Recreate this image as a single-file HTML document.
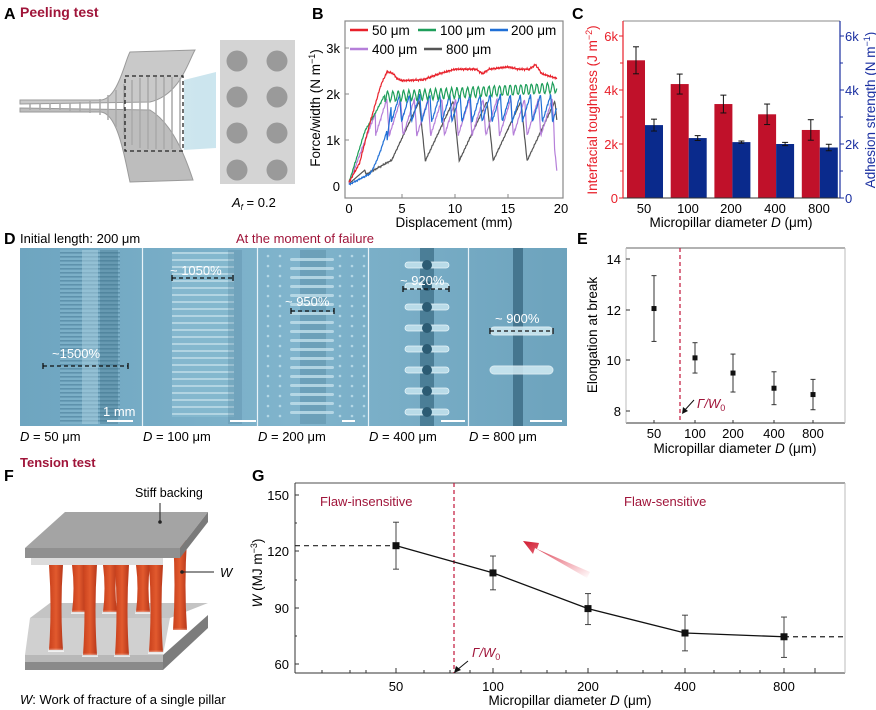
<!DOCTYPE html>
<html><head><meta charset="utf-8"><style>
html,body{margin:0;padding:0;background:#fff;}
svg{display:block;font-family:"Liberation Sans",Arial,sans-serif;}
</style></head><body>
<svg id="s" width="876" height="710" viewBox="0 0 876 710" xmlns="http://www.w3.org/2000/svg">
<defs>
<linearGradient id="fan" x1="0" x2="1"><stop offset="0" stop-color="#cfe6ee"/><stop offset="1" stop-color="#b7dbe8" stop-opacity="0.7"/></linearGradient>
<linearGradient id="pil" x1="0" x2="1"><stop offset="0" stop-color="#c8401c"/><stop offset="0.5" stop-color="#e25a2e"/><stop offset="1" stop-color="#b8381a"/></linearGradient>
<linearGradient id="pilf" x1="0" y1="0" x2="0" y2="1"><stop offset="0" stop-color="#fff" stop-opacity="0"/><stop offset="0.75" stop-color="#fff" stop-opacity="0"/><stop offset="1" stop-color="#fff" stop-opacity="0.8"/></linearGradient>
<linearGradient id="rarrow" x1="1" y1="1" x2="0" y2="0"><stop offset="0" stop-color="#e2233a" stop-opacity="0"/><stop offset="1" stop-color="#d01a30"/></linearGradient>
<linearGradient id="img" x1="0" x2="1"><stop offset="0" stop-color="#6ea5c0"/><stop offset="0.5" stop-color="#80b4cc"/><stop offset="1" stop-color="#6da3bd"/></linearGradient>
<pattern id="stripes" width="6" height="4" patternUnits="userSpaceOnUse"><rect width="6" height="4" fill="#7fb2c9"/><rect y="0" width="6" height="1.6" fill="#3f7590" opacity="0.6"/></pattern>
<pattern id="stripes2" width="6" height="7" patternUnits="userSpaceOnUse"><rect width="6" height="7" fill="#86b9cf"/><rect y="0" width="6" height="2" fill="#c9e3ee" opacity="0.8"/></pattern>
</defs>

<!-- Panel A -->
<text x="4" y="19" font-size="16" font-weight="bold">A</text>
<text x="20" y="17" font-size="14" font-weight="bold" fill="#a0153a">Peeling test</text>
<polygon points="184,80 216,72 216,148 184,150" fill="url(#fan)"/>
<path d="M20,100 L100,100 C118,100 125,60 130,52 L195,50 C188,62 180,95 150,102 L20,104 Z" fill="#c9c9c9" stroke="#9a9a9a" stroke-width="1"/>
<path d="M20,112 L100,112 C118,112 125,160 130,182 L193,180 C188,165 175,125 150,110 L20,108 Z" fill="#bdbdbd" stroke="#9a9a9a" stroke-width="1"/>
<g stroke="#a8a8a8" stroke-width="1.5">
<line x1="30" y1="103" x2="30" y2="110"/><line x1="40" y1="103" x2="40" y2="110"/><line x1="50" y1="103" x2="50" y2="110"/><line x1="60" y1="103" x2="60" y2="110"/><line x1="70" y1="103" x2="70" y2="111"/><line x1="80" y1="102" x2="80" y2="112"/><line x1="90" y1="101" x2="90" y2="113"/><line x1="100" y1="99" x2="100" y2="115"/><line x1="108" y1="95" x2="108" y2="120"/><line x1="116" y1="90" x2="116" y2="127"/><line x1="124" y1="84" x2="124" y2="135"/><line x1="132" y1="80" x2="132" y2="145"/><line x1="140" y1="78" x2="140" y2="148"/><line x1="148" y1="77" x2="148" y2="149"/><line x1="156" y1="77" x2="156" y2="149"/><line x1="164" y1="77" x2="164" y2="149"/><line x1="172" y1="77" x2="172" y2="149"/><line x1="180" y1="78" x2="180" y2="148"/>
</g>
<rect x="125" y="76" width="58" height="75" fill="none" stroke="#222" stroke-width="1.3" stroke-dasharray="4,3"/>
<rect x="220" y="40" width="75" height="144" fill="#d4d4d4"/>
<g fill="#9a9a9a"><circle cx="237" cy="61" r="10.5"/><circle cx="277" cy="61" r="10.5"/><circle cx="237" cy="97" r="10.5"/><circle cx="277" cy="97" r="10.5"/><circle cx="237" cy="133" r="10.5"/><circle cx="277" cy="133" r="10.5"/><circle cx="237" cy="170" r="10.5"/><circle cx="277" cy="170" r="10.5"/></g>
<text x="232" y="207" font-size="13"><tspan font-style="italic">A</tspan><tspan font-size="8" font-style="italic" dy="3">f</tspan><tspan dy="-3"> = 0.2</tspan></text>

<!-- Panel B -->
<text x="312" y="19" font-size="16" font-weight="bold">B</text>
<g id="bcurves"></g>
<rect x="345" y="21" width="218" height="177" fill="none" stroke="#888" stroke-width="1.2"/>
<g font-size="13" text-anchor="end">
<text x="340" y="191">0</text><text x="340" y="145">1k</text><text x="340" y="99">2k</text><text x="340" y="53">3k</text></g>
<g stroke="#888"><line x1="345" y1="140" x2="349" y2="140"/><line x1="345" y1="94" x2="349" y2="94"/><line x1="345" y1="48" x2="349" y2="48"/>
<line x1="402" y1="198" x2="402" y2="194"/><line x1="455" y1="198" x2="455" y2="194"/><line x1="508" y1="198" x2="508" y2="194"/></g>
<g font-size="13" text-anchor="middle"><text x="349" y="213">0</text><text x="402" y="213">5</text><text x="455" y="213">10</text><text x="508" y="213">15</text><text x="561" y="213">20</text></g>
<text x="454" y="227" font-size="13.5" text-anchor="middle">Displacement (mm)</text>
<text transform="translate(320,108) rotate(-90)" font-size="13.5" text-anchor="middle">Force/width (N m<tspan font-size="9" dy="-5">−1</tspan><tspan dy="5">)</tspan></text>
<g font-size="13.5" stroke-width="2.5">
<line x1="350" y1="30" x2="368" y2="30" stroke="#e8202a"/><text x="372" y="35">50 μm</text>
<line x1="418" y1="30" x2="436" y2="30" stroke="#1e9e5a"/><text x="440" y="35">100 μm</text>
<line x1="490" y1="30" x2="508" y2="30" stroke="#1f6fd6"/><text x="511" y="35">200 μm</text>
<line x1="350" y1="49" x2="368" y2="49" stroke="#b57fd9"/><text x="372" y="54">400 μm</text>
<line x1="424" y1="49" x2="442" y2="49" stroke="#555"/><text x="446" y="54">800 μm</text>
</g>

<!-- Panel C -->
<text x="572" y="19" font-size="16" font-weight="bold">C</text>
<g id="cbars"></g>
<line x1="623" y1="21" x2="840" y2="21" stroke="#888"/>
<line x1="623" y1="198" x2="840" y2="198" stroke="#333"/>
<line x1="623" y1="21" x2="623" y2="198" stroke="#e8202a" stroke-width="1.2"/>
<line x1="840" y1="21" x2="840" y2="198" stroke="#1a2fa0" stroke-width="1.2"/>
<g font-size="13" text-anchor="end" fill="#e8202a"><text x="618" y="203">0</text><text x="618" y="149">2k</text><text x="618" y="95">4k</text><text x="618" y="41">6k</text></g>
<g stroke="#e8202a"><line x1="619" y1="198" x2="623" y2="198"/><line x1="619" y1="144" x2="623" y2="144"/><line x1="619" y1="90" x2="623" y2="90"/><line x1="619" y1="36" x2="623" y2="36"/><line x1="620" y1="171" x2="623" y2="171"/><line x1="620" y1="117" x2="623" y2="117"/><line x1="620" y1="63" x2="623" y2="63"/></g>
<g font-size="13" fill="#1a2fa0"><text x="845" y="203">0</text><text x="845" y="149">2k</text><text x="845" y="95">4k</text><text x="845" y="41">6k</text></g>
<g stroke="#1a2fa0"><line x1="840" y1="198" x2="844" y2="198"/><line x1="840" y1="144" x2="844" y2="144"/><line x1="840" y1="90" x2="844" y2="90"/><line x1="840" y1="36" x2="844" y2="36"/><line x1="840" y1="171" x2="843" y2="171"/><line x1="840" y1="117" x2="843" y2="117"/><line x1="840" y1="63" x2="843" y2="63"/></g>
<g font-size="13" text-anchor="middle"><text x="644" y="213">50</text><text x="688" y="213">100</text><text x="731" y="213">200</text><text x="775" y="213">400</text><text x="819" y="213">800</text></g>
<text x="731" y="227" font-size="13.5" text-anchor="middle">Micropillar diameter <tspan font-style="italic">D</tspan> (μm)</text>
<text transform="translate(597,110) rotate(-90)" font-size="13.5" text-anchor="middle" fill="#e8202a">Interfacial toughness (J m<tspan font-size="9" dy="-5">−2</tspan><tspan dy="5">)</tspan></text>
<text transform="translate(875,110) rotate(-90)" font-size="13.5" text-anchor="middle" fill="#1a2fa0">Adhesion strength (N m<tspan font-size="9" dy="-5">−1</tspan><tspan dy="5">)</tspan></text>

<!-- Panel D -->
<text x="4" y="244" font-size="16" font-weight="bold">D</text>
<text x="20" y="243" font-size="13">Initial length: 200 μm</text>
<text x="236" y="243" font-size="13" fill="#a0153a">At the moment of failure</text>
<rect x="20" y="248" width="547" height="178" fill="url(#img)"/>
<rect x="60" y="250" width="60" height="174" fill="url(#stripes)" opacity="0.8"/>
<rect x="82" y="250" width="16" height="174" fill="#a9d0e0" opacity="0.5"/>
<rect x="100" y="250" width="18" height="174" fill="#3d6f88" opacity="0.35"/>
<rect x="172" y="252" width="62" height="165" fill="url(#stripes2)" opacity="0.85"/>
<rect x="228" y="250" width="14" height="174" fill="#4a7d96" opacity="0.25"/>
<rect x="300" y="250" width="26" height="174" fill="#4b7f99" opacity="0.35"/>
<g fill="#c2e0ec" opacity="0.8" id="d3"></g>
<rect x="420" y="248" width="14" height="178" fill="#2f5f78" opacity="0.6"/>
<g id="d4"></g>
<rect x="513" y="248" width="10" height="178" fill="#2e5c75" opacity="0.65"/>
<g fill="#d2ecf4" stroke="#eaf6fa" opacity="0.85"><rect x="490" y="327" width="63" height="8" rx="4"/><rect x="490" y="366" width="63" height="8" rx="4"/></g>
<g stroke="#e8f3f8" stroke-width="1.2"><line x1="142.5" y1="248" x2="142.5" y2="426"/><line x1="257.5" y1="248" x2="257.5" y2="426"/><line x1="368.5" y1="248" x2="368.5" y2="426"/><line x1="468.5" y1="248" x2="468.5" y2="426"/></g>
<g fill="#fff" font-size="13">
<text x="52" y="358">~1500%</text><text x="170" y="275">~ 1050%</text><text x="285" y="306">~ 950%</text><text x="400" y="285">~ 920%</text><text x="495" y="323">~ 900%</text>
<text x="103" y="416">1 mm</text></g>
<g stroke="#111" stroke-width="1.3" stroke-dasharray="4,3">
<line x1="43" y1="366" x2="128" y2="366"/><line x1="172" y1="278" x2="233" y2="278"/><line x1="291" y1="311" x2="334" y2="311"/><line x1="403" y1="289" x2="449" y2="289"/><line x1="490" y1="331" x2="553" y2="331"/></g>
<g stroke="#111" stroke-width="1.3"><line x1="43" y1="363" x2="43" y2="369"/><line x1="128" y1="363" x2="128" y2="369"/><line x1="172" y1="275" x2="172" y2="281"/><line x1="233" y1="275" x2="233" y2="281"/><line x1="291" y1="308" x2="291" y2="314"/><line x1="334" y1="308" x2="334" y2="314"/><line x1="403" y1="286" x2="403" y2="292"/><line x1="449" y1="286" x2="449" y2="292"/><line x1="490" y1="328" x2="490" y2="334"/><line x1="553" y1="328" x2="553" y2="334"/></g>
<g stroke="#fff" stroke-width="2"><line x1="107" y1="421" x2="133" y2="421"/><line x1="230" y1="421" x2="256" y2="421"/><line x1="342" y1="421" x2="355" y2="421"/><line x1="441" y1="421" x2="465" y2="421"/><line x1="530" y1="421" x2="562" y2="421"/></g>
<g font-size="13"><text x="20" y="441"><tspan font-style="italic">D</tspan> = 50 μm</text><text x="143" y="441"><tspan font-style="italic">D</tspan> = 100 μm</text><text x="258" y="441"><tspan font-style="italic">D</tspan> = 200 μm</text><text x="369" y="441"><tspan font-style="italic">D</tspan> = 400 μm</text><text x="469" y="441"><tspan font-style="italic">D</tspan> = 800 μm</text></g>

<!-- Panel E -->
<text x="577" y="244" font-size="16" font-weight="bold">E</text>
<line x1="626" y1="248" x2="845" y2="248" stroke="#999" stroke-width="1.5"/>
<line x1="626" y1="423" x2="845" y2="423" stroke="#333"/>
<line x1="626" y1="248" x2="626" y2="423" stroke="#bbb"/>
<line x1="845" y1="248" x2="845" y2="423" stroke="#bbb"/>
<g stroke="#333"><line x1="626" y1="259" x2="630" y2="259"/><line x1="626" y1="310" x2="630" y2="310"/><line x1="626" y1="360" x2="630" y2="360"/><line x1="626" y1="411" x2="630" y2="411"/>
<line x1="654" y1="423" x2="654" y2="420"/><line x1="695" y1="423" x2="695" y2="420"/><line x1="733" y1="423" x2="733" y2="420"/><line x1="774" y1="423" x2="774" y2="420"/><line x1="813" y1="423" x2="813" y2="420"/></g>
<g font-size="13" text-anchor="end"><text x="621" y="264">14</text><text x="621" y="315">12</text><text x="621" y="365">10</text><text x="621" y="416">8</text></g>
<g font-size="13" text-anchor="middle"><text x="654" y="438">50</text><text x="695" y="438">100</text><text x="733" y="438">200</text><text x="774" y="438">400</text><text x="813" y="438">800</text></g>
<text x="735" y="453" font-size="13.5" text-anchor="middle">Micropillar diameter <tspan font-style="italic">D</tspan> (μm)</text>
<text transform="translate(597,335) rotate(-90)" font-size="13.5" text-anchor="middle">Elongation at break</text>
<line x1="680" y1="248" x2="680" y2="423" stroke="#c2153a" stroke-width="1.2" stroke-dasharray="4,3"/>
<g id="epts"></g>
<text x="697" y="408" font-size="13" fill="#a0153a" font-style="italic">Γ/W<tspan font-size="9" dy="3" font-style="normal">0</tspan></text>
<line x1="694" y1="400" x2="684" y2="411" stroke="#111"/><polygon points="682,414 683,407 688,411" fill="#111"/>

<!-- Panel F -->
<text x="4" y="481" font-size="16" font-weight="bold">F</text>
<text x="20" y="467" font-size="13" font-weight="bold" fill="#a0153a">Tension test</text>
<polygon points="30,618 170,618 163,655 25,655" fill="#d0d0d0"/>
<polygon points="50,603 208,603 170,618 30,618" fill="#c4c4c4"/>
<polygon points="25,655 163,655 163,662 25,662" fill="#b8b8b8"/>
<polygon points="25,662 163,662 163,670 25,670" fill="#8a8a8a"/>
<polygon points="163,655 208,615 208,628 163,670" fill="#7c7c7c"/>
<g id="pillars"></g>
<polygon points="31,558 163,558 163,565 31,565" fill="#dcdcdc"/>
<polygon points="65,512 208,512 180,548 25,548" fill="#a4a4a4"/>
<polygon points="25,548 180,548 180,558 25,558" fill="#909090"/>
<polygon points="180,548 208,512 208,522 180,558" fill="#7a7a7a"/>
<text x="135" y="497" font-size="12.5">Stiff backing</text>
<line x1="160" y1="503" x2="160" y2="522" stroke="#222"/><circle cx="160" cy="522" r="1.8" fill="#222"/>
<line x1="182" y1="572" x2="214" y2="572" stroke="#222"/><circle cx="182" cy="572" r="1.8" fill="#222"/>
<text x="220" y="577" font-size="13" font-style="italic">W</text>
<text x="20" y="704" font-size="13"><tspan font-style="italic">W</tspan>: Work of fracture of a single pillar</text>

<!-- Panel G -->
<text x="252" y="481" font-size="16" font-weight="bold">G</text>
<line x1="295" y1="483" x2="845" y2="483" stroke="#888" stroke-width="1.5"/>
<line x1="295" y1="673" x2="845" y2="673" stroke="#333"/>
<line x1="295" y1="483" x2="295" y2="673" stroke="#333"/>
<line x1="845" y1="483" x2="845" y2="673" stroke="#bbb"/>
<g stroke="#333"><line x1="295" y1="495" x2="299" y2="495"/><line x1="295" y1="551" x2="299" y2="551"/><line x1="295" y1="608" x2="299" y2="608"/><line x1="295" y1="664" x2="299" y2="664"/>
<line x1="295" y1="523" x2="297" y2="523"/><line x1="295" y1="580" x2="297" y2="580"/><line x1="295" y1="636" x2="297" y2="636"/>
<line x1="396" y1="673" x2="396" y2="668"/><line x1="493" y1="673" x2="493" y2="668"/><line x1="588" y1="673" x2="588" y2="668"/><line x1="685" y1="673" x2="685" y2="668"/><line x1="784" y1="673" x2="784" y2="668"/><line x1="815" y1="673" x2="815" y2="668"/>
<line x1="322" y1="673" x2="322" y2="670"/><line x1="350" y1="673" x2="350" y2="670"/><line x1="366" y1="673" x2="366" y2="670"/><line x1="424" y1="673" x2="424" y2="670"/><line x1="450" y1="673" x2="450" y2="670"/><line x1="470" y1="673" x2="470" y2="670"/><line x1="521" y1="673" x2="521" y2="670"/><line x1="547" y1="673" x2="547" y2="670"/><line x1="566" y1="673" x2="566" y2="670"/><line x1="617" y1="673" x2="617" y2="670"/><line x1="643" y1="673" x2="643" y2="670"/><line x1="662" y1="673" x2="662" y2="670"/><line x1="714" y1="673" x2="714" y2="670"/><line x1="740" y1="673" x2="740" y2="670"/><line x1="760" y1="673" x2="760" y2="670"/></g>
<g font-size="13" text-anchor="end"><text x="289" y="500">150</text><text x="289" y="556">120</text><text x="289" y="613">90</text><text x="289" y="669">60</text></g>
<g font-size="13" text-anchor="middle"><text x="396" y="691">50</text><text x="493" y="691">100</text><text x="588" y="691">200</text><text x="685" y="691">400</text><text x="784" y="691">800</text></g>
<text x="570" y="705" font-size="13.5" text-anchor="middle">Micropillar diameter <tspan font-style="italic">D</tspan> (μm)</text>
<text transform="translate(262,573) rotate(-90)" font-size="13.5" text-anchor="middle"><tspan font-style="italic">W</tspan> (MJ m<tspan font-size="9" dy="-5">−3</tspan><tspan dy="5">)</tspan></text>
<line x1="454" y1="483" x2="454" y2="673" stroke="#c2153a" stroke-width="1.2" stroke-dasharray="4,3"/>
<text x="320" y="506" font-size="13" fill="#a0153a">Flaw-insensitive</text>
<text x="624" y="506" font-size="13" fill="#a0153a">Flaw-sensitive</text>
<polygon points="590,572 537,549 539,543 523,541 533,554 535,548 587,578" fill="url(#rarrow)"/>
<text x="472" y="657" font-size="13" fill="#a0153a" font-style="italic">Γ/W<tspan font-size="9" dy="3" font-style="normal">0</tspan></text>
<line x1="468" y1="661" x2="457" y2="670" stroke="#111"/><polygon points="454,673 456,666 461,670" fill="#111"/>
<g id="gpts"></g>
</svg>
<script>
var NS="http://www.w3.org/2000/svg";
function el(p,t,a){var e=document.createElementNS(NS,t);for(var k in a)e.setAttribute(k,a[k]);p.appendChild(e);return e;}
function frac(x){return x-Math.floor(x);}
function saw(d,per,ph,lo,hi){var t=frac((d-ph)/per);return t<0.82?lo+(hi-lo)*(t/0.82):hi-(hi-lo)*((t-0.82)/0.18);}
function nz(d,a){return a*(Math.sin(d*37.1)*0.5+Math.sin(d*91.7)*0.3+Math.sin(d*173.3)*0.2);}
function interp(pts,d){for(var i=1;i<pts.length;i++){if(d<=pts[i][0]){var a=pts[i-1],b=pts[i];return a[1]+(b[1]-a[1])*(d-a[0])/(b[0]-a[0]);}}return pts[pts.length-1][1];}
var B=document.getElementById("bcurves");
function X(d){return 349+10.6*d;} function Y(f){return 186-45.8*f;}
var curves=[
 ["#555",function(d){if(d<1.5)return 0.05+0.2*d;if(d<1.6)return 0.35-1.0*(d-1.5);if(d<4)return 0.25+0.13*(d-1.6)+nz(d,0.02);return saw(d,3.2,4.0,0.55,1.85)+nz(d,0.02);}],
 ["#b57fd9",function(d){if(d<2.5)return 0.05+0.62*d+nz(d,0.03);return saw(d,1.3,2.5,1.1,1.9)+nz(d,0.03)-(d>19.3?0.9*(d-19.3)/0.3:0);}],
 ["#1f6fd6",function(d){if(d<3.6)return 0.03+0.12*d+0.4*Math.max(0,d-2)*d/3+nz(d,0.02);if(d<4)return 1.0+2*(d-3.6);return saw(d,0.95,4,1.4,2.0)+nz(d,0.03);}],
 ["#1e9e5a",function(d){if(d<3.4)return interp([[0,0.08],[0.7,0.6],[1.5,1.2],[2.5,1.6],[3.4,2.0]],d)+nz(d,0.02);return 1.95+0.012*(d-3.4)+0.11*Math.sin(d*12.5)+nz(d,0.02);}],
 ["#e8202a",function(d){return interp([[0,0.08],[1,0.5],[2,1.4],[3,2.2],[3.6,2.5],[4.2,2.45],[4.5,2.35],[5,2.3],[7,2.32],[8.5,2.45],[10,2.55],[12,2.55],[12.6,2.45],[13.2,2.55],[15,2.6],[16,2.55],[17,2.55],[17.6,2.65],[18.2,2.45],[19.6,2.35]],d)+nz(d,0.025);}]
];
curves.forEach(function(c){var s="";for(var d=0;d<=19.6;d+=0.04){s+=(s?"L":"M")+X(d).toFixed(1)+","+Y(c[1](d)).toFixed(1);}el(B,"path",{d:s,fill:"none",stroke:c[0],"stroke-width":1.2});});
var C=document.getElementById("cbars");
var red=[[5.1,0.5],[4.22,0.37],[3.48,0.33],[3.1,0.38],[2.52,0.38]],blu=[[2.7,0.22],[2.22,0.09],[2.07,0.04],[2.0,0.06],[1.87,0.12]];
function CY(k){return 198-27*k;}
for(var i=0;i<5;i++){var x0=627+43.7*i;
 el(C,"rect",{x:x0,y:CY(red[i][0]),width:18,height:198-CY(red[i][0]),fill:"#c0112a"});
 el(C,"rect",{x:x0+18,y:CY(blu[i][0]),width:18,height:198-CY(blu[i][0]),fill:"#0a2a8c"});
 [[x0+9,red[i]],[x0+27,blu[i]]].forEach(function(p){var x=p[0],v=p[1];el(C,"line",{x1:x,x2:x,y1:CY(v[0]+v[1]),y2:CY(v[0]-v[1]),stroke:"#111"});el(C,"line",{x1:x-3,x2:x+3,y1:CY(v[0]+v[1]),y2:CY(v[0]+v[1]),stroke:"#111"});el(C,"line",{x1:x-3,x2:x+3,y1:CY(v[0]-v[1]),y2:CY(v[0]-v[1]),stroke:"#111"});});
}
var E=document.getElementById("epts");function EY(v){return 411-25.3*(v-8);}
[[654,12.05,10.75,13.35],[695,10.1,9.5,10.7],[733,9.5,8.75,10.25],[774,8.9,8.25,9.55],[813,8.65,8.05,9.25]].forEach(function(p){
 el(E,"line",{x1:p[0],x2:p[0],y1:EY(p[3]),y2:EY(p[2]),stroke:"#333"});
 el(E,"line",{x1:p[0]-2.5,x2:p[0]+2.5,y1:EY(p[3]),y2:EY(p[3]),stroke:"#333"});el(E,"line",{x1:p[0]-2.5,x2:p[0]+2.5,y1:EY(p[2]),y2:EY(p[2]),stroke:"#333"});
 el(E,"rect",{x:p[0]-2.5,y:EY(p[1])-2.5,width:5,height:5,fill:"#111"});});
var G=document.getElementById("gpts");function GY(v){return 664-1.878*(v-60);}
var gp=[[396,123,110.5,135.5],[493,108.5,99.5,117.5],[588,89.5,81,97.5],[685,76.5,67,86],[784,74.5,63.5,85]];
el(G,"line",{x1:295,x2:396,y1:GY(123),y2:GY(123),stroke:"#222","stroke-width":1.2,"stroke-dasharray":"5,4"});
el(G,"line",{x1:784,x2:845,y1:GY(74.5),y2:GY(74.5),stroke:"#222","stroke-width":1.2,"stroke-dasharray":"5,4"});
el(G,"polyline",{points:gp.map(function(p){return p[0]+","+GY(p[1]);}).join(" "),fill:"none",stroke:"#111","stroke-width":1.3});
gp.forEach(function(p){el(G,"line",{x1:p[0],x2:p[0],y1:GY(p[3]),y2:GY(p[2]),stroke:"#444"});
 el(G,"line",{x1:p[0]-3,x2:p[0]+3,y1:GY(p[3]),y2:GY(p[3]),stroke:"#444"});el(G,"line",{x1:p[0]-3,x2:p[0]+3,y1:GY(p[2]),y2:GY(p[2]),stroke:"#444"});
 el(G,"rect",{x:p[0]-3.5,y:GY(p[1])-3.5,width:7,height:7,fill:"#111"});});
var P=document.getElementById("pillars");
[[56,565,650],[79,565,612],[90,565,655],[110,565,612],[122,565,655],[143,565,612],[156,565,652],[180,540,630]].forEach(function(p){
 el(P,"path",{d:"M"+(p[0]-7)+","+p[1]+" Q"+(p[0]-4)+","+((p[1]+p[2])/2)+" "+(p[0]-7)+","+p[2]+" L"+(p[0]+7)+","+p[2]+" Q"+(p[0]+4)+","+((p[1]+p[2])/2)+" "+(p[0]+7)+","+p[1]+" Z",fill:"url(#pil)"});
 el(P,"rect",{x:p[0]-8,y:p[2]-14,width:16,height:16,fill:"url(#pilf)"});});
var D3=document.getElementById("d3");
for(var y=258;y<420;y+=9){el(D3,"rect",{x:290,y:y,width:44,height:3,rx:1.5});}
for(var y=256;y<424;y+=10){for(var x=268;x<365;x+=12){if(x<288||x>338)el(D3,"circle",{cx:x,cy:y,r:1.3});}}
var D4=document.getElementById("d4");
for(var y=262;y<424;y+=21){el(D4,"rect",{x:405,y:y,width:44,height:6,rx:3,fill:"#b9dbe8",stroke:"#e6f4f9","stroke-width":0.8});el(D4,"circle",{cx:427,cy:y+3,r:5,fill:"#2c5b73"});}
</script>
</body></html>
